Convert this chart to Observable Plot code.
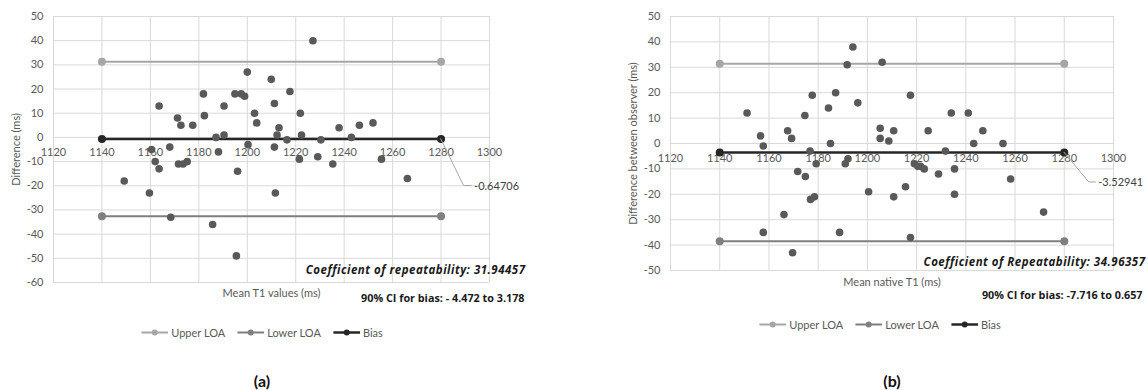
<!DOCTYPE html>
<html>
<head>
<meta charset="utf-8">
<script src="https://cdn.jsdelivr.net/npm/d3@7"></script>
<script src="https://cdn.jsdelivr.net/npm/@observablehq/plot@0.6"></script>
<style>
  html, body { margin: 0; padding: 0; background: #fff; }
  #root { position: relative; width: 1148px; height: 390px; overflow: hidden; font-family: Lato, "Open Sans", sans-serif; }
  .panel { position: absolute; top: 0; }
  .legend { position: absolute; display: flex; align-items: center; gap: 12px; transform: translate(-50%, -50%);
            font-size: 11px; color: #595959; white-space: nowrap; }
  .legend .item { display: flex; align-items: center; gap: 3px; }
  .cap { position: absolute; transform: translate(-50%, -50%); font-weight: bold; font-size: 16px; color: #111; }
</style>
</head>
<body>
<div id="root"></div>
<script>
// ---------------- data ----------------
const xTicks = [1120, 1140, 1160, 1180, 1200, 1220, 1240, 1260, 1280, 1300];
const yTicksA = [-60, -50, -40, -30, -20, -10, 0, 10, 20, 30, 40, 50];
const yTicksB = [-50, -40, -30, -20, -10, 0, 10, 20, 30, 40, 50];
const loaX = [1140, 1280];

// panel (a): mean T1 values vs difference
const meansA = [1149.2, 1159.6, 1160.5, 1162.0, 1163.6, 1163.6, 1168.0, 1168.4, 1171.2, 1172.6,
                1171.6, 1173.5, 1175.2, 1177.5, 1181.9, 1182.3, 1185.7, 1187.1, 1188.1, 1190.4,
                1190.4, 1194.9, 1196.0, 1195.5, 1197.5, 1198.9, 1200.0, 1200.3, 1203.0, 1203.9,
                1209.9, 1211.2, 1211.2, 1211.6, 1212.3, 1213.1, 1216.4, 1217.6, 1221.9, 1222.4,
                1221.5, 1227.1, 1229.1, 1230.4, 1235.3, 1237.9, 1243.0, 1246.3, 1251.9, 1255.4, 1266.1];
const diffsA = [-18, -23, -5, -10, 13, -13, -4, -33, 8, 5,
                -11, -11, -10, 5, 18, 9, -36, 0, -6, 1,
                13, 18, -14, -49, 18, 17, 27, -3, 10, 6,
                24, 14, -4, -23, 1, 4, -1, 19, 10, 1,
                -9, 40, -8, -1, -11, 4, 0, 5, 6, -9, -17];
const biasA = -0.64706;
const crA = 31.94457;

// panel (b): mean native T1 vs difference between observers
const meansB = [1151.1, 1156.6, 1157.7, 1157.7, 1166.1, 1167.6, 1169.2, 1169.6, 1171.7, 1174.6,
                1174.8, 1176.7, 1177.6, 1176.9, 1178.5, 1179.2, 1184.2, 1185.0, 1187.1, 1188.7,
                1191.0, 1191.8, 1192.1, 1194.1, 1196.1, 1200.5, 1205.2, 1205.2, 1206.0, 1208.7,
                1210.7, 1210.7, 1215.5, 1217.5, 1217.5, 1219.1, 1220.5, 1221.6, 1223.1, 1224.7,
                1228.9, 1231.7, 1234.1, 1235.4, 1235.4, 1241.0, 1243.2, 1246.9, 1255.1, 1258.2, 1271.6];
const diffsB = [12, 3, -1, -35, -28, 5, 2, -43, -11, 11,
                -13, -3, 19, -22, -21, -8, 14, 0, 20, -35,
                -8, 31, -6, 38, 16, -19, 6, 2, 32, 1,
                5, -21, -17, 19, -37, -8, -9, -9, -10, 5,
                -12, -3, 12, -10, -20, 12, 0, 5, 0, -14, -27];
const biasB = -3.52941;
const crB = 34.96357;

const legendLabels = ["Upper LOA", "Lower LOA", "Bias"];
const textsA = { ylabel: "Difference (ms)", xlabel: "Mean T1 values (ms)",
  coef: "Coefficient of repeatability: 31.94457", ci: "90% CI for bias: - 4.472 to 3.178", biasLabel: "-0.64706", cap: "(a)" };
const textsB = { ylabel: "Difference between observer (ms)", xlabel: "Mean native T1 (ms)",
  coef: "Coefficient of Repeatability: 34.96357", ci: "90% CI for bias: -7.716 to 0.657", biasLabel: "-3.52941", cap: "(b)" };

// ---------------- styles ----------------
const C = { grid: "#d9d9d9", upper: "#a6a6a6", lower: "#7f7f7f", bias: "#262626", pts: "#595959", text: "#595959", dark: "#1a1a1a", leader: "#a6a6a6" };
const lineColors = [C.upper, C.lower, C.bias];
const annFont = "'Open Sans', Lato, sans-serif";

function leader(xv, yv, ex, ey, hx) {
  return (index, scales) => {
    const x0 = scales.x(xv), y0 = scales.y(yv);
    const p = d3.create("svg:path")
      .attr("d", `M${x0},${y0}L${x0 + ex},${y0 + ey}H${x0 + hx}`)
      .attr("fill", "none").attr("stroke", C.leader).attr("stroke-width", 1);
    return p.node();
  };
}

function panel(o) {
  const upper = o.bias + o.cr, lower = o.bias - o.cr;
  const svg = Plot.plot({
    width: 574, height: o.height,
    marginLeft: o.ml, marginRight: o.mr, marginTop: 16, marginBottom: o.mb,
    style: { fontFamily: "Lato, 'Open Sans', sans-serif", fontSize: "11px", color: C.text, background: "white", overflow: "visible" },
    x: { domain: [1120, 1300], axis: null },
    y: { domain: o.yDomain },
    marks: [
      Plot.gridX(xTicks, { stroke: C.grid, strokeOpacity: 1 }),
      Plot.gridY(o.yTicks, { stroke: C.grid, strokeOpacity: 1 }),
      Plot.axisY(o.yTicks, { tickSize: 0, tickPadding: 10, label: null, tickFormat: d => String(d), fill: C.text, fontSize: 11 }),
      Plot.text(xTicks, { x: d => d, y: () => 0, dy: 15, text: d => String(d), fill: C.text, fontSize: 11 }),
      Plot.text([o.t.ylabel], { frameAnchor: "left", rotate: -90, dx: -37, text: d => d, textAnchor: "middle", lineAnchor: "middle", fill: C.text, fontSize: 11 }),
      Plot.text([o.t.xlabel], { frameAnchor: "bottom", dy: o.xlabDy, text: d => d, textAnchor: "middle", lineAnchor: "middle", fill: C.text, fontSize: 11 }),
      // LOA and bias lines
      Plot.line(loaX, { x: d => d, y: () => upper, stroke: C.upper, strokeWidth: 2 }),
      Plot.line(loaX, { x: d => d, y: () => lower, stroke: C.lower, strokeWidth: 2 }),
      Plot.line(loaX, { x: d => d, y: () => o.bias, stroke: C.bias, strokeWidth: 2.5 }),
      Plot.dot(loaX, { x: d => d, y: () => upper, r: 4, fill: C.upper }),
      Plot.dot(loaX, { x: d => d, y: () => lower, r: 4, fill: C.lower }),
      // data points
      Plot.dot(o.means, { x: d => d, y: (d, i) => o.diffs[i], r: 3.8, fill: C.pts }),
      Plot.dot(loaX, { x: d => d, y: () => o.bias, r: 4, fill: C.bias }),
      // bias label with leader
      leader(1280, o.bias, o.lead[0], o.lead[1], o.lead[2]),
      Plot.text([o.t.biasLabel], { x: () => 1280, y: () => o.bias, dx: o.lead[2] + 2, dy: o.lead[1], text: d => d, textAnchor: "start", lineAnchor: "middle", fill: "#404040", fontSize: 11 }),
      // annotations
      Plot.text([o.t.coef], { frameAnchor: "bottom-right", dx: o.coefDx, dy: o.coefDy, text: d => d, textAnchor: "end", lineAnchor: "middle", fill: C.dark, fontFamily: annFont, fontSize: 11.5, fontWeight: "bold", fontStyle: "italic" }),
      Plot.text([o.t.ci], { frameAnchor: "bottom-right", dx: o.ciDx, dy: o.ciDy, text: d => d, textAnchor: "end", lineAnchor: "middle", fill: C.dark, fontFamily: annFont, fontSize: 10.8, fontWeight: "bold" })
    ]
  });
  d3.select(svg).selectAll("text").filter(function () { return this.textContent === o.t.coef; })
    .attr("letter-spacing", "0.5px");
  return svg;
}

const root = document.getElementById("root");

const pa = panel({ means: meansA, diffs: diffsA, bias: biasA, cr: crA, yDomain: [-60, 50], yTicks: yTicksA, t: textsA,
  height: 310, ml: 53, mr: 85, mb: 28, xlabDy: 11, lead: [23, 47, 31], coefDx: 36, coefDy: -12, ciDx: 35, ciDy: 16 });
const pb = panel({ means: meansB, diffs: diffsB, bias: biasB, cr: crB, yDomain: [-50, 50], yTicks: yTicksB, t: textsB,
  height: 310, ml: 96, mr: 35, mb: 40, xlabDy: 12, lead: [25, 30, 32], coefDx: 32, coefDy: -8, ciDx: 29, ciDy: 25 });

const wa = document.createElement("div"); wa.className = "panel"; wa.style.left = "0px"; wa.appendChild(pa); root.appendChild(wa);
const wb = document.createElement("div"); wb.className = "panel"; wb.style.left = "574px"; wb.appendChild(pb); root.appendChild(wb);

function legend(cx, cy) {
  const d = document.createElement("div");
  d.className = "legend"; d.style.left = cx + "px"; d.style.top = cy + "px";
  legendLabels.forEach((lab, i) => {
    const it = document.createElement("div"); it.className = "item";
    const sw = i === 2 ? 2.5 : 2;
    it.innerHTML = `<svg width="27" height="10"><line x1="0" y1="5" x2="27" y2="5" stroke="${lineColors[i]}" stroke-width="${sw}"/><circle cx="13.5" cy="5" r="3" fill="${lineColors[i]}"/></svg><span>${lab}</span>`;
    d.appendChild(it);
  });
  root.appendChild(d);
}
legend(262, 332);
legend(880, 324);

function caption(text, cx, cy) {
  const d = document.createElement("div"); d.className = "cap"; d.textContent = text;
  d.style.left = cx + "px"; d.style.top = cy + "px"; root.appendChild(d);
}
caption(textsA.cap, 262, 380);
caption(textsB.cap, 892, 380);
</script>
</body>
</html>
